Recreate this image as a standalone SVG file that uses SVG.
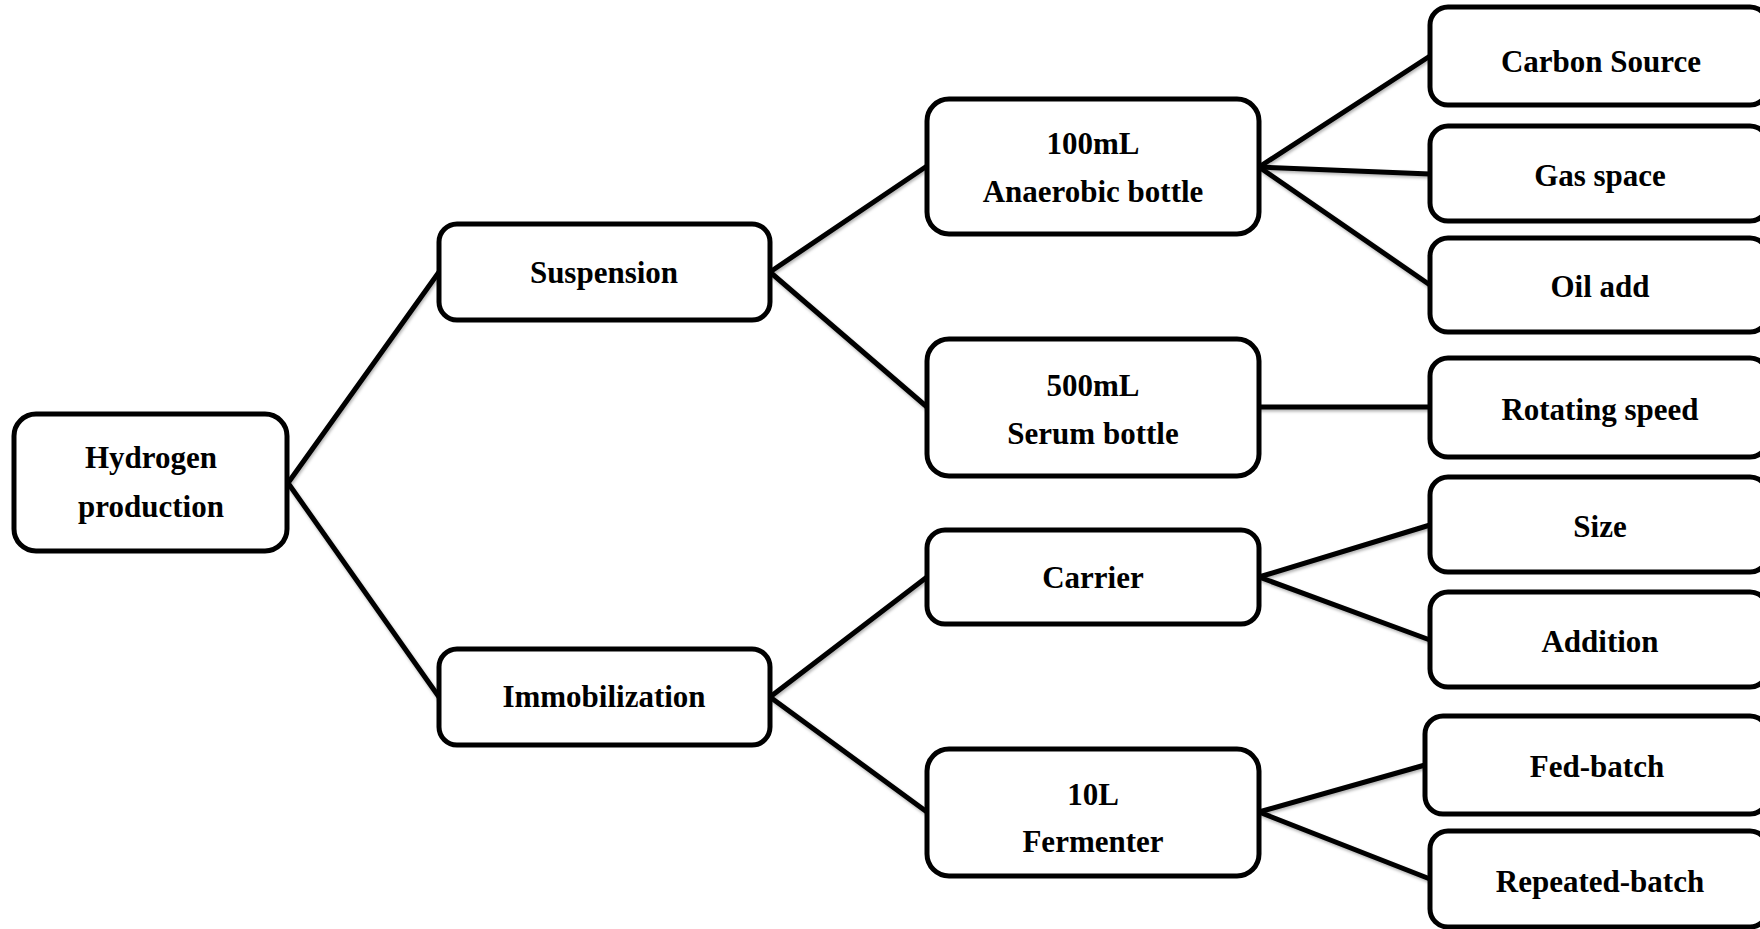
<svg xmlns="http://www.w3.org/2000/svg" width="1760" height="929" viewBox="0 0 1760 929">
<defs>
<filter id="sh" x="-5%" y="-5%" width="110%" height="120%">
<feDropShadow dx="1" dy="2" stdDeviation="1.5" flood-color="#000" flood-opacity="0.3"/>
</filter>
<style>
.box{fill:#fff;stroke:#000;stroke-width:5}
.ln{stroke:#000;stroke-width:5;fill:none;stroke-linecap:round}
text{font-family:"Liberation Serif","Times New Roman",serif;font-weight:bold;font-size:31px;fill:#000;text-anchor:middle}
</style>
</defs>
<rect width="1760" height="929" fill="#fff"/>
<g id="connectors" filter="url(#sh)">
<line class="ln" x1="288" y1="483" x2="439" y2="272"/>
<line class="ln" x1="288" y1="483" x2="439" y2="697"/>
<line class="ln" x1="770" y1="272" x2="927" y2="166"/>
<line class="ln" x1="770" y1="272" x2="927" y2="407"/>
<line class="ln" x1="770" y1="697" x2="927" y2="577"/>
<line class="ln" x1="770" y1="697" x2="927" y2="812"/>
<line class="ln" x1="1259" y1="167" x2="1430" y2="56"/>
<line class="ln" x1="1259" y1="167" x2="1430" y2="174"/>
<line class="ln" x1="1259" y1="167" x2="1430" y2="285"/>
<line class="ln" x1="1259" y1="407" x2="1430" y2="407"/>
<line class="ln" x1="1259" y1="577" x2="1430" y2="525"/>
<line class="ln" x1="1259" y1="577" x2="1430" y2="640"/>
<line class="ln" x1="1259" y1="812" x2="1425" y2="765"/>
<line class="ln" x1="1259" y1="812" x2="1430" y2="879"/>
</g>
<g id="hydrogen"><rect class="box" x="14" y="414" width="273" height="137" rx="22"/><text x="151" y="468">Hydrogen</text><text x="151" y="517">production</text></g>
<g id="suspension"><rect class="box" x="439" y="224" width="331" height="96" rx="18"/><text x="604" y="283">Suspension</text></g>
<g id="immobilization"><rect class="box" x="439" y="649" width="331" height="96" rx="18"/><text x="604" y="707">Immobilization</text></g>
<g id="anaerobic"><rect class="box" x="927" y="99" width="332" height="135" rx="22"/><text x="1093" y="154">100mL</text><text x="1093" y="202">Anaerobic bottle</text></g>
<g id="serum"><rect class="box" x="927" y="339" width="332" height="137" rx="22"/><text x="1093" y="396">500mL</text><text x="1093" y="444">Serum bottle</text></g>
<g id="carrier"><rect class="box" x="927" y="530" width="332" height="94" rx="18"/><text x="1093" y="588">Carrier</text></g>
<g id="fermenter"><rect class="box" x="927" y="749" width="332" height="127" rx="22"/><text x="1093" y="805">10L</text><text x="1093" y="852">Fermenter</text></g>
<g id="carbon"><rect class="box" x="1430" y="7" width="338" height="98" rx="18"/><text x="1601" y="72">Carbon Source</text></g>
<g id="gas"><rect class="box" x="1430" y="126" width="338" height="95" rx="18"/><text x="1600" y="186">Gas space</text></g>
<g id="oil"><rect class="box" x="1430" y="238" width="338" height="94" rx="18"/><text x="1600" y="297">Oil add</text></g>
<g id="rotating"><rect class="box" x="1430" y="358" width="338" height="99" rx="18"/><text x="1600" y="420">Rotating speed</text></g>
<g id="size"><rect class="box" x="1430" y="477" width="338" height="95" rx="18"/><text x="1600" y="537">Size</text></g>
<g id="addition"><rect class="box" x="1430" y="592" width="338" height="95" rx="18"/><text x="1600" y="652">Addition</text></g>
<g id="fedbatch"><rect class="box" x="1425" y="716" width="343" height="98" rx="18"/><text x="1597" y="777">Fed-batch</text></g>
<g id="repeated"><rect class="box" x="1430" y="831" width="338" height="96" rx="18"/><text x="1600" y="892">Repeated-batch</text></g>
</svg>
